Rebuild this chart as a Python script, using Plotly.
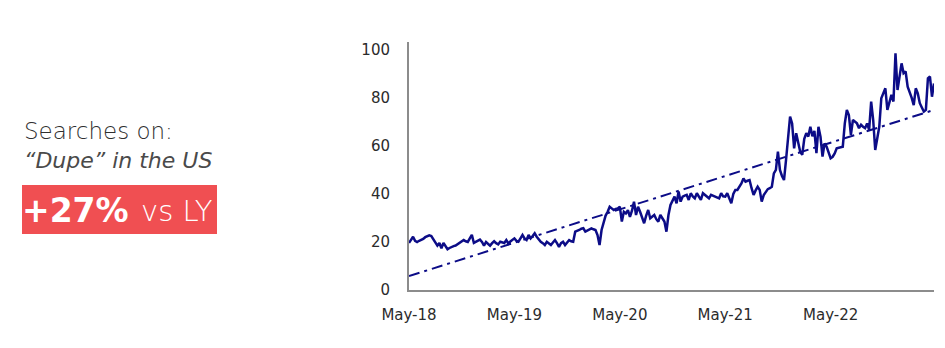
import pandas as pd
import plotly.graph_objects as go

# Weekly search interest, "Dupe" in the US (index, 0-100)
start_date = "2018-05-06"
searches = [
    19.6, 21, 22.2, 20.5, 20, 20.5, 20.8, 21.3, 22, 22.5,
    22.8, 22.5, 21, 20, 18.5, 19.6, 17.4, 19.6, 18, 17,
    17.5, 18, 18.3, 18.5, 19, 19.8, 20.2, 20.8, 20.3, 20,
    21.5, 23, 19.6, 20, 20.3, 21, 20, 18.5, 20, 19.2,
    18.5, 19.5, 20.3, 19.5, 19, 20.1, 19.8, 19.6, 20.8, 19.4,
    20.2, 21, 21.5, 20.5, 20.1, 21.5, 22.9, 21.5, 20.8, 22.9,
    21.5, 22.5, 23.6, 22.2, 21, 20.1, 19.5, 18.75, 20.1, 19.5,
    18.75, 19.8, 20.8, 19.5, 18, 19.5, 20.1, 18.75, 19.8, 20.8,
    20.3, 20.1, 24.3, 24.5, 25, 25.5, 25.7, 24.3, 24.8, 25.3,
    25.7, 25.3, 25, 22.9, 18.75, 25, 28.5, 31, 32.6, 34.7,
    34, 33.3, 33.8, 34, 34.7, 28.5, 32.6, 31.9, 33.3, 30.5,
    33, 36.8, 31.25, 34.7, 32.6, 30, 27.8, 31, 33.3, 29.9,
    30.5, 31.25, 29.5, 28.5, 31.25, 29.9, 28.5, 24.3, 31.25, 35.4,
    37, 38.9, 36.1, 41, 36.8, 38.9, 39.3, 39.6, 37.5, 40.3,
    39, 38.2, 40.3, 39, 37.5, 40.3, 39.5, 38.9, 38.2, 39.6,
    39.2, 38.9, 38.5, 38.2, 40.3, 39, 38.9, 40.3, 38.2, 36.1,
    40, 41.7, 41.7, 43, 44.4, 46.5, 45.1, 45.5, 45.8, 42.4,
    39.6, 41.5, 43, 41.7, 36.8, 39.5, 41, 42, 42.4, 43,
    48.6, 50, 57.6, 50, 47.5, 45.8, 54.2, 65, 72.2, 69.4,
    59, 65.3, 61.1, 57.6, 56.3, 63, 65.3, 63.9, 68, 64,
    66.3, 57, 68, 63.9, 55.6, 61, 59.7, 56.9, 54.9, 55.5,
    56.9, 59, 59.3, 59.5, 59.7, 69.4, 75, 72.9, 64.6, 70.8,
    70, 69.4, 67.4, 68.8, 68, 67.4, 69.4, 66.7, 78.5, 70.8,
    58.3, 63, 68, 79.9, 82, 84, 75, 78.5, 81.3, 78.5,
    98.6, 83.3, 90, 94.4, 90.3, 91, 84.7, 82.6, 80, 77,
    84, 81.9, 77.8, 76, 74.3, 75, 88.2, 88.9, 80.5, 86,
]
dates = pd.date_range(start=start_date, periods=len(searches), freq="7D")

# Linear trend end values
trend_values = [5.8, 75.0]
trend_dates = [dates[0], dates[-1]]

# Yearly tick labels
tick_dates = list(dates[::52])
tick_labels = [d.strftime("%b-%y") for d in tick_dates]

y_ticks = [0, 20, 40, 60, 80, 100]

W, H = 945, 348
navy = "#0c0c87"

fig = go.Figure()
fig.add_trace(go.Scatter(
    x=trend_dates, y=trend_values, mode="lines",
    line=dict(color=navy, width=2, dash="11px,5px,3px,5px"),
    hoverinfo="skip", showlegend=False,
))
fig.add_trace(go.Scatter(
    x=dates, y=searches, mode="lines",
    line=dict(color=navy, width=2.5),
    showlegend=False,
))

axis_font = dict(family="DejaVu Sans, sans-serif", size=15, color="#2b2b2b")

fig.update_layout(
    width=W, height=H,
    margin=dict(l=0, r=0, t=0, b=0, pad=0, autoexpand=False),
    paper_bgcolor="white", plot_bgcolor="white",
    xaxis=dict(
        domain=[409 / W, 934 / W],
        range=[dates[0], dates[-1]],
        tickvals=tick_dates, ticktext=tick_labels,
        showgrid=False, zeroline=False,
        showline=True, linecolor="#8c8c8c", linewidth=2,
        ticks="", tickfont=axis_font, ticklabelstandoff=10,
        automargin=False,
    ),
    yaxis=dict(
        domain=[58 / H, 306 / H],
        range=[0, 103.3],
        tickvals=y_ticks,
        showgrid=False, zeroline=False,
        showline=True, linecolor="#8c8c8c", linewidth=2,
        ticks="", tickfont=axis_font, ticklabelstandoff=14,
        automargin=False,
    ),
)

def py(v):
    return 1 - v / H

fig.add_annotation(x=22 / W, y=py(131), xref="paper", yref="paper",
                   text="Searches on:", showarrow=False,
                   xanchor="left", yanchor="middle",
                   font=dict(family="DejaVu Sans, sans-serif", size=23,
                             color="#2f2f2f", weight=200))
fig.add_annotation(x=22 / W, y=py(160), xref="paper", yref="paper",
                   text="<i>“Dupe” in the US</i>", showarrow=False,
                   xanchor="left", yanchor="middle",
                   font=dict(family="DejaVu Sans, sans-serif", size=22,
                             color="#4a4a4a", weight=200))

fig.add_shape(type="rect", xref="paper", yref="paper",
              x0=22 / W, x1=217 / W, y0=py(234), y1=py(185),
              fillcolor="#f04f52", line=dict(width=0), layer="below")
fig.add_annotation(x=20 / W, y=py(210), xref="paper", yref="paper",
                   text="<b>+27%</b>", showarrow=False,
                   xanchor="left", yanchor="middle",
                   font=dict(family="DejaVu Sans, sans-serif", size=33, color="white", weight=700))
fig.add_annotation(x=139 / W, y=py(211), xref="paper", yref="paper",
                   text="vs LY", showarrow=False,
                   xanchor="left", yanchor="middle",
                   font=dict(family="DejaVu Sans, sans-serif", size=29, color="white", weight=200))

fig.write_html("out.html")
